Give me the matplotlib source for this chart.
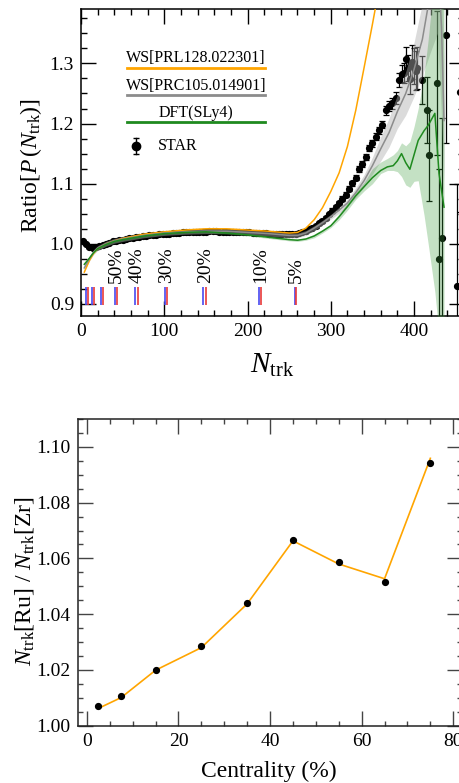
import matplotlib
matplotlib.use('Agg')
import matplotlib.pyplot as plt
from matplotlib.ticker import MultipleLocator, FormatStrFormatter

plt.rcParams['font.family'] = ['Liberation Serif', 'DejaVu Serif']
plt.rcParams['mathtext.fontset'] = 'custom'
plt.rcParams['mathtext.rm'] = 'Liberation Serif'
plt.rcParams['mathtext.it'] = 'Liberation Serif:italic'
plt.rcParams['mathtext.bf'] = 'Liberation Serif:bold'

# ---------------- data: top panel ----------------
star_n = [2, 6, 10, 14, 18, 22, 26, 30, 34, 38,
          42, 46, 50, 54, 58, 62, 66, 70, 74, 78,
          82, 86, 90, 94, 98, 102, 106, 110, 114, 118,
          122, 126, 130, 134, 138, 142, 146, 150, 154, 158,
          162, 166, 170, 174, 178, 182, 186, 190, 194, 198,
          202, 206, 210, 214, 218, 222, 226, 230, 234, 238,
          242, 246, 250, 254, 258, 262, 266, 270, 274, 278,
          282, 286, 290, 294, 298, 302, 306, 310, 314, 318,
          322, 326, 330, 334, 338, 342, 346, 350, 354, 358,
          362, 366, 370, 374, 378,
          382, 385, 388, 390, 393, 395, 397, 400, 402, 404,
          410, 415, 418, 427, 430, 434, 438, 451, 455]
star_r = [1.005, 1.000, 0.995, 0.993, 0.994, 0.996, 0.998, 1.000, 1.002, 1.004,
          1.005, 1.006, 1.007, 1.008, 1.009, 1.010, 1.011, 1.012, 1.013, 1.013,
          1.014, 1.015, 1.015, 1.016, 1.016, 1.017, 1.017, 1.018, 1.018, 1.018,
          1.019, 1.019, 1.019, 1.020, 1.020, 1.020, 1.020, 1.020, 1.021, 1.021,
          1.021, 1.020, 1.020, 1.020, 1.020, 1.020, 1.019, 1.019, 1.019, 1.019,
          1.019, 1.018, 1.018, 1.018, 1.018, 1.018, 1.017, 1.017, 1.017, 1.017,
          1.017, 1.016, 1.016, 1.016, 1.017, 1.018, 1.020, 1.022, 1.024, 1.027,
          1.030, 1.034, 1.038, 1.043, 1.049, 1.055, 1.061, 1.068, 1.075, 1.082,
          1.092, 1.101, 1.110, 1.124, 1.133, 1.144, 1.160, 1.167, 1.178, 1.189,
          1.198, 1.222, 1.229, 1.234, 1.242,
          1.272, 1.283, 1.284, 1.308, 1.292, 1.274, 1.302, 1.296, 1.288, 1.292,
          1.272, 1.223, 1.147, 1.267, 0.975, 1.010, 1.347, 0.930, 1.253]
star_e = [0.002, 0.002, 0.002, 0.002, 0.002, 0.002, 0.002, 0.002, 0.002, 0.002,
          0.002, 0.002, 0.002, 0.002, 0.002, 0.002, 0.002, 0.002, 0.002, 0.002,
          0.002, 0.002, 0.002, 0.002, 0.002, 0.002, 0.002, 0.002, 0.002, 0.002,
          0.002, 0.002, 0.002, 0.002, 0.002, 0.002, 0.002, 0.002, 0.002, 0.002,
          0.002, 0.002, 0.002, 0.002, 0.002, 0.002, 0.002, 0.002, 0.002, 0.002,
          0.002, 0.002, 0.002, 0.002, 0.002, 0.002, 0.002, 0.002, 0.002, 0.002,
          0.002, 0.002, 0.002, 0.002, 0.002, 0.002, 0.002, 0.002, 0.003, 0.003,
          0.003, 0.003, 0.003, 0.003, 0.003, 0.004, 0.004, 0.004, 0.004, 0.004,
          0.004, 0.004, 0.004, 0.005, 0.005, 0.005, 0.005, 0.006, 0.006, 0.006,
          0.006, 0.008, 0.008, 0.009, 0.010,
          0.012, 0.014, 0.016, 0.020, 0.022, 0.025, 0.028, 0.030, 0.032, 0.035,
          0.040, 0.055, 0.075, 0.120, 0.150, 0.200, 0.180, 0.170, 0.200]

ws1_n = [4, 10, 15, 20, 30, 40, 50, 75, 100, 125, 150, 175, 200, 225, 250,
         260, 270, 280, 290, 300, 310, 320, 330, 340, 350, 360]
ws1_r = [0.953, 0.972, 0.984, 0.992, 1.000, 1.005, 1.009, 1.016, 1.020, 1.023,
         1.025, 1.025, 1.023, 1.021, 1.018, 1.019, 1.026, 1.040, 1.060, 1.087,
         1.118, 1.162, 1.222, 1.293, 1.365, 1.440]

ws2_n = [4, 10, 15, 20, 30, 40, 50, 75, 100, 125,
         150, 175, 200, 225, 250, 260, 270, 280, 290, 300,
         310, 320, 330, 340, 350, 360, 370, 380, 390, 400,
         410, 420, 428, 433, 436]
ws2_r = [0.960, 0.975, 0.986, 0.993, 1.000, 1.005, 1.008, 1.014, 1.018, 1.020,
         1.021, 1.021, 1.019, 1.017, 1.014, 1.014, 1.018, 1.026, 1.035, 1.045,
         1.056, 1.068, 1.085, 1.105, 1.130, 1.158, 1.185, 1.220, 1.250, 1.290,
         1.340, 1.420, 1.500, 1.360, 1.205]
ws2_e = [0.004, 0.004, 0.004, 0.004, 0.004, 0.004, 0.004, 0.004, 0.004, 0.004,
         0.004, 0.004, 0.004, 0.004, 0.004, 0.004, 0.004, 0.004, 0.004, 0.004,
         0.005, 0.006, 0.008, 0.010, 0.014, 0.020, 0.024, 0.028, 0.036, 0.045,
         0.060, 0.100, 0.150, 0.150, 0.100]

dft_n = [4, 10, 15, 20, 30, 40, 50, 75, 100, 125,
         150, 175, 200, 225, 250, 260, 270, 280, 290, 300,
         310, 320, 330, 340, 350, 360, 368, 375, 380, 385,
         390, 395, 400, 405, 412, 417, 425, 430, 436]
dft_r = [0.966, 0.976, 0.985, 0.992, 0.999, 1.004, 1.007, 1.013, 1.017, 1.019,
         1.020, 1.018, 1.015, 1.011, 1.007, 1.006, 1.008, 1.013, 1.021, 1.030,
         1.045, 1.062, 1.080, 1.095, 1.110, 1.122, 1.128, 1.130, 1.138, 1.150,
         1.135, 1.124, 1.148, 1.172, 1.188, 1.197, 1.217, 1.117, 1.061]
dft_lo = [0.964, 0.974, 0.983, 0.990, 0.997, 1.002, 1.005, 1.011, 1.015, 1.017,
          1.018, 1.016, 1.013, 1.009, 1.005, 1.004, 1.006, 1.010, 1.018, 1.027,
          1.040, 1.056, 1.074, 1.088, 1.100, 1.117, 1.122, 1.122, 1.120, 1.112,
          1.098, 1.094, 1.104, 1.105, 1.048, 1.000, 0.920, 0.850, 0.850]
dft_hi = [0.968, 0.978, 0.987, 0.994, 1.001, 1.006, 1.009, 1.015, 1.019, 1.021,
          1.022, 1.020, 1.017, 1.013, 1.009, 1.008, 1.010, 1.016, 1.024, 1.033,
          1.050, 1.068, 1.086, 1.102, 1.125, 1.136, 1.142, 1.148, 1.155, 1.168,
          1.163, 1.170, 1.195, 1.225, 1.280, 1.340, 1.450, 1.450, 1.450]

cent_pct = [80, 70, 60, 50, 40, 30, 20, 10, 5]
cent_zr = [6.4, 13.2, 24.0, 40.4, 65.0, 100.4, 147.0, 213.6, 256.8]
cent_ru = [8.4, 15.6, 26.0, 43.6, 69.0, 103.2, 150.0, 216.4, 258.4]

legend_labels = ['WS[PRL128.022301]', 'WS[PRC105.014901]', 'DFT(SLy4)', 'STAR']

# ---------------- data: bottom panel ----------------
centrality = [2.5, 7.5, 15, 25, 35, 45, 55, 65, 75]
nratio_data = [1.0069, 1.0106, 1.0199, 1.0286, 1.0439, 1.0667, 1.0587, 1.0514, 1.0943]
nratio_model = [1.0062, 1.0101, 1.0199, 1.0280, 1.0437, 1.0663, 1.0580, 1.0527, 1.0959]

# ---------------- figure ----------------
W, H = 459, 783
fig = plt.figure(figsize=(W / 100, H / 100), dpi=100)


def rect(l, r, t, b):
    return [l / W, 1 - b / H, (r - l) / W, (b - t) / H]


ax1 = fig.add_axes(rect(81, 464, 9.3, 316))
ax2 = fig.add_axes(rect(77.7, 462.4, 419, 725.7))

ORANGE = '#ffa500'
GRAY = '#8c8c8c'
GREEN = '#1f8a1f'

# STAR data
ax1.errorbar(star_n, star_r, yerr=star_e, fmt='o', color='black', ms=4.2,
             elinewidth=0.9, capsize=2.4, capthick=0.9, zorder=2)

# model bands
ws2_lo = [r - e for r, e in zip(ws2_r, ws2_e)]
ws2_hi = [r + e for r, e in zip(ws2_r, ws2_e)]
ax1.fill_between(ws2_n, ws2_lo, ws2_hi, color='#b0b0b0', alpha=0.45, lw=0, zorder=3)
ax1.fill_between(dft_n, dft_lo, dft_hi, color='#3c9c3c', alpha=0.3, lw=0, zorder=3)

# model lines
ax1.plot(ws1_n, ws1_r, color=ORANGE, lw=1.1, zorder=5)
ax1.plot(ws2_n, ws2_r, color=GRAY, lw=1.1, zorder=5)
ax1.plot(dft_n, dft_r, color=GREEN, lw=1.1, zorder=5)

# centrality markers
ax1.vlines(cent_zr, 0.898, 0.929, color='#4848f0', lw=1.2, zorder=4)
ax1.vlines(cent_ru, 0.898, 0.929, color='#e83a3a', lw=1.2, zorder=4)
for p, zr, ru in zip(cent_pct, cent_zr, cent_ru):
    if p <= 50:
        ax1.text((zr + ru) / 2 + 1, 0.935, f'{p}%', rotation=90, ha='center',
                 va='bottom', fontsize=14)

ax1.set_xlim(0, 460)
ax1.set_ylim(0.88, 1.39)
ax1.xaxis.set_major_locator(MultipleLocator(100))
ax1.xaxis.set_minor_locator(MultipleLocator(20))
ax1.yaxis.set_major_locator(MultipleLocator(0.1))
ax1.yaxis.set_minor_locator(MultipleLocator(0.025))
ax1.yaxis.set_major_formatter(FormatStrFormatter('%.1f'))
ax1.tick_params(which='both', direction='in', top=True, right=True,
                labelsize=14, width=1.0, color='black')
ax1.tick_params(which='major', length=11, pad=5)
ax1.tick_params(which='minor', length=4.5)
for s in ax1.spines.values():
    s.set_linewidth(1.1)

# legend (manual, text above line)
lx0, lx1 = 0.1193, 0.4804
lxc = (lx0 + lx1) / 2
for lab, col, yl, yt in [(legend_labels[0], ORANGE, 0.8076, 0.840),
                         (legend_labels[1], GRAY, 0.7206, 0.750),
                         (legend_labels[2], GREEN, 0.6335, 0.663)]:
    ax1.plot([lx0, lx1], [yl, yl], color=col, lw=2.0, transform=ax1.transAxes,
             clip_on=False, zorder=6)
    ax1.text(lxc, yt, lab, ha='center', va='center', fontsize=11.5,
             transform=ax1.transAxes, zorder=6)
sx, sy, se = 0.1436, 0.5553, 0.026
ax1.plot([sx, sx], [sy - se, sy + se], color='black', lw=1.0,
         transform=ax1.transAxes, zorder=6)
ax1.plot([sx, sx], [sy - se, sy + se], ls='none', marker='_', ms=5, mew=1.0,
         color='black', transform=ax1.transAxes, zorder=6)
ax1.plot([sx], [sy], 'o', color='black', ms=6, transform=ax1.transAxes, zorder=6)
ax1.text(0.2018, sy, legend_labels[3], ha='left', va='center', fontsize=11.5,
         transform=ax1.transAxes, zorder=6)

# top labels
fig.text(31 / W, 1 - 166 / H, r'Ratio[$P\,(N_{\rm trk})$]', rotation=90,
         ha='center', va='center', fontsize=17)
fig.text(272 / W, 1 - 373 / H, r'$N_{\rm trk}$', ha='center', va='baseline',
         fontsize=21)

# ---------------- bottom panel ----------------
ax2.plot(centrality, nratio_model, color=ORANGE, lw=1.2, zorder=2)
ax2.plot(centrality, nratio_data, 'o', color='black', ms=4.2, zorder=3)
ax2.set_xlim(-2, 82)
ax2.set_ylim(1.0, 1.11)
ax2.xaxis.set_major_locator(MultipleLocator(20))
ax2.xaxis.set_minor_locator(MultipleLocator(5))
ax2.yaxis.set_major_locator(MultipleLocator(0.02))
ax2.yaxis.set_minor_locator(MultipleLocator(0.005))
ax2.yaxis.set_major_formatter(FormatStrFormatter('%.2f'))
ax2.tick_params(which='both', direction='in', top=True, right=True,
                labelsize=14, width=1.0, color='#444444')
ax2.tick_params(which='major', length=11, pad=5)
ax2.tick_params(which='minor', length=3.6)
for s in ax2.spines.values():
    s.set_linewidth(1.1)
    s.set_color('#222222')

fig.text(25 / W, 1 - 581 / H, r'$N_{\rm trk}$[Ru] / $N_{\rm trk}$[Zr]', rotation=90,
         ha='center', va='center', fontsize=17)
fig.text(269 / W, 1 - 777 / H, 'Centrality (%)', ha='center', va='baseline',
         fontsize=17)

fig.savefig('out.png', dpi=100)
